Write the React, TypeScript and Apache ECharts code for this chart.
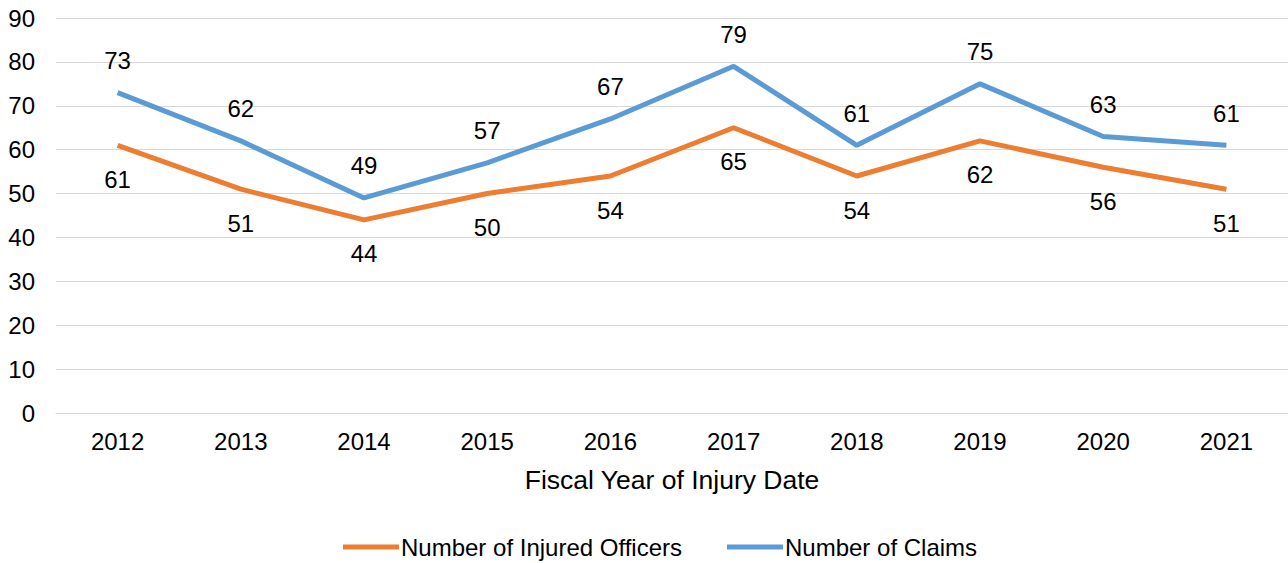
import React, { useEffect, useRef } from "react";
import * as echarts from "echarts";

const years = ["2012", "2013", "2014", "2015", "2016", "2017", "2018", "2019", "2020", "2021"];
const injuredOfficers = [61, 51, 44, 50, 54, 65, 54, 62, 56, 51];
const claims = [73, 62, 49, 57, 67, 79, 61, 75, 63, 61];

export default function App() {
  const ref = useRef<HTMLDivElement>(null);
  useEffect(() => {
    const chart = echarts.init(ref.current!, null, { renderer: "svg" });
    const font = "Liberation Sans, Arial, sans-serif";
    chart.setOption({
      animation: false,
      textStyle: { fontFamily: font },
      grid: { left: 56, right: 0, top: 18, bottom: 150, containLabel: false },
      xAxis: {
        type: "category",
        data: years,
        boundaryGap: true,
        name: "Fiscal Year of Injury Date",
        nameLocation: "middle",
        nameGap: 53,
        nameTextStyle: { fontSize: 26.5, color: "#000", fontFamily: font },
        axisLine: { lineStyle: { color: "#d9d9d9", width: 1 } },
        axisTick: { show: false },
        axisLabel: { fontSize: 24, color: "#000", margin: 16, fontFamily: font },
      },
      yAxis: {
        type: "value",
        min: 0,
        max: 90,
        interval: 10,
        axisLine: { show: false },
        axisTick: { show: false },
        splitLine: { lineStyle: { color: "#d9d9d9", width: 1 } },
        axisLabel: { fontSize: 24, color: "#000", margin: 21, fontFamily: font },
      },
      legend: {
        bottom: -1,
        left: 338,
        itemWidth: 56,
        itemHeight: 5,
        itemGap: 45,
        icon: "rect",
        textStyle: { fontSize: 24, color: "#000", fontFamily: font, padding: [0, 0, 0, -3] },
        data: ["Number of Injured Officers", "Number of Claims"],
      },
      series: [
        {
          name: "Number of Injured Officers",
          type: "line",
          data: injuredOfficers,
          symbol: "circle",
          symbolSize: 0,
          showSymbol: true,
          lineStyle: { color: "#ED7D31", width: 5 },
          itemStyle: { color: "#ED7D31" },
          label: { show: true, position: "bottom", distance: 22, fontSize: 24, color: "#000", fontFamily: font },
        },
        {
          name: "Number of Claims",
          type: "line",
          data: claims,
          symbol: "circle",
          symbolSize: 0,
          showSymbol: true,
          lineStyle: { color: "#5B9BD5", width: 5 },
          itemStyle: { color: "#5B9BD5" },
          label: { show: true, position: "top", distance: 20, fontSize: 24, color: "#000", fontFamily: font },
        },
      ],
    });
    return () => chart.dispose();
  }, []);
  return (
    <div
      ref={ref}
      style={{ position: "fixed", left: 0, top: 0, width: 1288, height: 563, background: "#fff" }}
    />
  );
}
